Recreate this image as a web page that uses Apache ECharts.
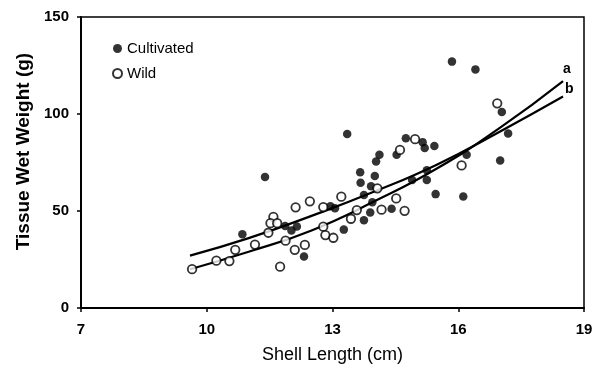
<!DOCTYPE html>
<html>
<head>
<meta charset="utf-8">
<script src="https://cdn.jsdelivr.net/npm/echarts@6/dist/echarts.min.js"></script>
<style>html,body{margin:0;padding:0;background:#fff}#c{width:601px;height:376px}</style>
</head>
<body>
<div id="c"></div>
<script>
const xTicks = [7, 10, 13, 16, 19];
const yTicks = [0, 50, 100, 150];

const cultivated = [
  [15.85, 127], [16.41, 123], [17.04, 101], [17.19, 90], [15.15, 85.5], [15.2, 82.5],
  [15.43, 83.5], [16.2, 79], [17.0, 76], [15.25, 71], [15.25, 66], [15.46, 58.7],
  [16.12, 57.5], [14.75, 87.5], [14.53, 79], [14.12, 79], [14.04, 75.5], [13.35, 89.7],
  [13.66, 70], [14.01, 68], [13.67, 64.6], [13.92, 62.7], [13.75, 58.3], [13.95, 54.5],
  [13.06, 51.4], [12.95, 52.5], [14.41, 51.2], [13.9, 49.2], [13.75, 45.2], [13.27, 40.4],
  [12.32, 26.5], [11.39, 67.5], [10.85, 38], [11.87, 42.3], [12.15, 42], [12.02, 40],
  [14.9, 66]
];
const wild = [
  [9.65, 20], [10.23, 24.4], [10.54, 24.2], [10.68, 30], [11.15, 32.7], [11.59, 47],
  [11.52, 43.7], [11.68, 43.7], [11.47, 38.8], [11.88, 34.7], [12.1, 30], [11.75, 21.3],
  [12.12, 51.9], [12.46, 55], [12.78, 52], [13.21, 57.4], [13.58, 50.5], [13.44, 46],
  [12.78, 41.9], [12.83, 37.6], [13.02, 36.2], [12.34, 32.5], [14.07, 61.7], [14.17, 50.7],
  [14.52, 56.5], [14.72, 50.1], [14.61, 81.5], [14.97, 87], [16.08, 73.5], [16.93, 105.5]
];
const curveA = [[9.6, 20], [11, 29], [12.5, 40], [14, 55], [15.5, 72], [17, 93], [18.5, 117]];
const curveB = [[9.6, 27], [11, 36], [12.5, 47.5], [14, 60], [15.5, 74], [17, 91], [18.5, 109]];

const FONT = 'Liberation Sans, Arial, sans-serif';
const chart = echarts.init(document.getElementById('c'), null, {renderer: 'canvas'});
chart.setOption({
  animation: false,
  backgroundColor: '#fff',
  grid: {left: 81, right: 17, top: 17, bottom: 68, show: true, borderColor: '#000', borderWidth: 1.5},
  legend: {
    orient: 'vertical', left: 112, top: 41, itemWidth: 9, itemHeight: 9, itemGap: 10, padding: 0,
    data: ['Cultivated', 'Wild'],
    textStyle: {fontSize: 15, color: '#000', fontFamily: FONT}
  },
  xAxis: {
    type: 'value', min: xTicks[0], max: xTicks[xTicks.length - 1],
    name: 'Shell Length (cm)', nameLocation: 'middle', nameGap: 38,
    nameTextStyle: {fontSize: 18, color: '#000', fontFamily: FONT},
    axisLine: {lineStyle: {color: '#000', width: 2}},
    axisTick: {show: true, length: 4, lineStyle: {color: '#000', width: 1.5}, customValues: xTicks},
    axisLabel: {fontSize: 15, fontWeight: 'bold', color: '#000', fontFamily: FONT, margin: 14, customValues: xTicks},
    splitLine: {show: false}
  },
  yAxis: {
    type: 'value', min: yTicks[0], max: yTicks[yTicks.length - 1], interval: 50,
    name: 'Tissue Wet Weight (g)', nameLocation: 'middle', nameGap: 47,
    nameTextStyle: {fontSize: 19, fontWeight: 'bold', color: '#000', fontFamily: FONT, padding: [0, 0, 0, 22]},
    axisLine: {lineStyle: {color: '#000', width: 2}},
    axisTick: {show: true, length: 4, lineStyle: {color: '#000', width: 1.5}},
    axisLabel: {fontSize: 15, fontWeight: 'bold', color: '#000', fontFamily: FONT, margin: 12},
    splitLine: {show: false}
  },
  series: [
    {
      type: 'line', name: 'a', data: curveA, smooth: true, showSymbol: false, z: 2,
      lineStyle: {color: '#000', width: 2.2},
      endLabel: {show: true, formatter: 'a', fontSize: 14, fontWeight: 'bold', color: '#000', fontFamily: FONT, offset: [-8, -12]}
    },
    {
      type: 'line', name: 'b', data: curveB, smooth: true, showSymbol: false, z: 2,
      lineStyle: {color: '#000', width: 2.2},
      endLabel: {show: true, formatter: 'b', fontSize: 14, fontWeight: 'bold', color: '#000', fontFamily: FONT, offset: [-6, -7]}
    },
    {
      type: 'scatter', name: 'Cultivated', data: cultivated, symbol: 'circle', symbolSize: 8.5, z: 4,
      itemStyle: {color: '#000'}
    },
    {
      type: 'scatter', name: 'Wild', data: wild, symbol: 'circle', symbolSize: 8.5, z: 5,
      itemStyle: {color: '#fff', borderColor: '#000', borderWidth: 1.8}
    }
  ]
});
</script>
</body>
</html>
